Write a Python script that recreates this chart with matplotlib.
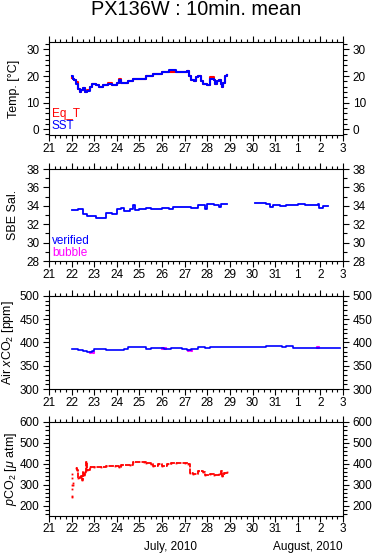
import matplotlib
matplotlib.use("Agg")
import matplotlib.pyplot as plt
from matplotlib.ticker import MultipleLocator, FixedLocator

plt.rcParams["font.family"] = ["Liberation Sans", "DejaVu Sans"]
plt.rcParams["mathtext.fontset"] = "custom"
plt.rcParams["mathtext.rm"] = "Liberation Sans"
plt.rcParams["mathtext.it"] = "Liberation Sans:italic"

# ---- data (day number: July d, Aug 1 = 32) ----
sst_day = [22.0, 22.05, 22.1, 22.2, 22.3, 22.35, 22.4, 22.5, 22.6, 22.7, 22.8, 22.9, 23.0, 23.1, 23.2,
           23.4, 23.6, 23.8, 24.0, 24.1, 24.2, 24.5, 24.7, 25.0, 25.3, 25.6, 26.0, 26.3, 26.6, 27.0,
           27.1, 27.2, 27.3, 27.4, 27.5, 27.6, 27.7, 27.8, 28.0, 28.1, 28.3, 28.35, 28.45, 28.5, 28.6,
           28.65, 28.7, 28.8, 28.85]
sst_val = [20.0, 19.0, 18.5, 17.0, 15.0, 13.8, 14.8, 15.5, 14.0, 14.2, 16.0, 17.0, 17.0, 16.5, 16.0,
           16.5, 17.0, 16.6, 17.5, 18.5, 17.5, 18.0, 19.0, 19.0, 20.0, 20.6, 21.5, 22.1, 21.6, 21.6,
           22.0, 20.0, 18.5, 18.0, 19.5, 20.0, 18.0, 17.0, 16.6, 19.0, 18.5, 17.0, 18.0, 18.5, 17.0,
           16.0, 17.5, 20.0, 20.5]
eqt_val = [19.4, 19.0, 18.5, 17.6, 15.0, 13.8, 14.8, 15.5, 14.0, 14.8, 16.0, 17.0, 17.0, 16.5, 16.0,
           16.5, 17.5, 16.6, 17.5, 19.0, 17.5, 18.0, 19.0, 19.0, 20.0, 20.6, 21.5, 21.6, 21.6, 21.6,
           22.0, 20.0, 18.5, 18.0, 19.5, 20.0, 18.0, 17.0, 16.6, 19.5, 18.5, 17.0, 18.0, 18.5, 17.0,
           16.0, 17.5, 20.0, 20.5]

sal_day1 = [22.0, 22.3, 22.5, 22.7, 23.0, 23.1, 23.5, 23.8, 24.0, 24.2, 24.3, 24.6, 24.7, 24.8, 25.0,
            25.3, 25.5, 26.0, 26.3, 26.5, 27.0, 27.3, 27.6, 27.9, 28.0, 28.3, 28.5, 28.6, 28.85]
sal_val1 = [33.5, 33.6, 33.1, 32.9, 32.9, 32.7, 33.2, 33.1, 33.6, 33.8, 33.4, 33.6, 34.1, 33.5, 33.6,
            33.8, 33.7, 33.8, 33.7, 33.9, 33.9, 33.8, 34.1, 33.6, 34.2, 34.1, 33.9, 34.15, 34.25]
sal_day2 = [30.1, 30.4, 30.6, 30.75, 30.9, 31.2, 31.5, 31.7, 32.0, 32.3, 32.6, 32.8, 32.9, 32.95,
            33.1, 33.33]
sal_val2 = [34.35, 34.3, 34.2, 33.9, 34.05, 34.0, 34.05, 34.05, 34.25, 34.1, 34.05, 34.1, 34.2, 33.75,
            34.0, 34.0]

air_day = [22.0, 22.3, 22.5, 22.7, 22.9, 23.0, 23.2, 23.4, 23.5, 24.0, 24.3, 24.5, 25.0, 25.3, 25.5,
           26.0, 26.1, 26.4, 26.8, 26.9, 27.1, 27.3, 27.6, 27.8, 27.9, 28.1, 29.0, 30.0, 30.6, 31.3,
           31.5, 31.8, 32.5, 33.0, 33.5, 33.88]
air_val = [385, 384, 382, 380, 381, 386, 387, 386, 383.5, 383.5, 386, 390, 390, 387, 389,
           389, 387, 388, 389, 386, 383, 386, 390, 391, 388, 390, 390, 390, 391.5, 390,
           391.5, 389, 389, 389, 389, 389]
bub_day = [22.8, 22.95, 26.0, 26.15, 27.15, 27.3, 32.85, 32.9]
bub_val = [380, 380, 389, 389, 383, 383, 391, 391]

pco2_day = [22.0, 22.0, 22.01, 22.02, 22.02, 22.03, 22.04, 22.05, 22.2, 22.25, 22.3, 22.35, 22.4,
            22.45, 22.5, 22.55, 22.6, 22.65, 22.7, 22.8, 23.0, 23.3, 23.5, 23.9, 24.1, 24.2, 24.6,
            24.7, 25.2, 25.3, 25.5, 25.6, 25.8, 26.0, 26.2, 26.4, 26.6, 27.0, 27.15, 27.25, 27.35,
            27.6, 27.8, 27.9, 28.1, 28.3, 28.5, 28.6, 28.65, 28.75, 28.85]
pco2_val = [350, 240, 330, 300, 280, 245, 310, 300, 380, 370, 330, 335, 340,
            320, 360, 345, 360, 410, 370, 385, 385, 383, 388, 390, 385, 393, 393,
            410, 410, 405, 400, 390, 400, 390, 398, 402, 405, 405, 400, 355, 350,
            365, 360, 345, 350, 345, 350, 365, 340, 355, 360]

BLUE, RED, MAG = "#0000ff", "#ff0000", "#ff00ff"
day_ticks = list(range(21, 35))
day_labels = [str(d) for d in range(21, 32)] + ["1", "2", "3"]

fig = plt.figure(figsize=(3.78, 5.58), dpi=100)
L, W = 49 / 378, 294 / 378
boxes = [(42, 135), (169, 261), (296, 389), (422, 516)]
axs = [fig.add_axes([L, 1 - b / 558, W, (b - t) / 558]) for t, b in boxes]

ylims = [(-2.2, 32.8), (28, 38), (300, 500), (150, 600)]
ymaj = [10, 2, 50, 100]
ymin = [2, 1, 10, 20]
ylabels = ["Temp. [°C]", "SBE Sal.", r"Air $x$CO$_2$ [ppm]", r"$p$CO$_2$ [$\mu$ atm]"]
ylabx = [13.5, 13, 8, 11]   # label centre, pixels from left edge

for ax, yl, mj, mn, lab, lx in zip(axs, ylims, ymaj, ymin, ylabels, ylabx):
    ax.set_xlim(21, 34)
    ax.set_ylim(*yl)
    ax.xaxis.set_major_locator(FixedLocator(day_ticks))
    ax.set_xticklabels(day_labels)
    ax.xaxis.set_minor_locator(MultipleLocator(0.25))
    ax.yaxis.set_major_locator(MultipleLocator(mj))
    ax.yaxis.set_minor_locator(MultipleLocator(mn))
    if yl[0] < 0:
        ax.set_yticks([0, 10, 20, 30])
    if yl == (150, 600):
        ax.set_yticks([200, 300, 400, 500, 600])
    ax.tick_params(axis="both", which="both", direction="out", top=True, right=True,
                   labelright=True, labelsize=8.5, width=0.8, color="black")
    ax.tick_params(axis="x", which="major", length=4.2, pad=1.2)
    ax.tick_params(axis="x", which="minor", length=2.2)
    ax.tick_params(axis="y", which="major", length=4.5, pad=2.5)
    ax.tick_params(axis="y", which="minor", length=2.8)
    for s in ax.spines.values():
        s.set_linewidth(0.8)
    ax.set_ylabel(lab, fontsize=9, va="center")
    ax.yaxis.set_label_coords((lx - 49) / 294, 0.5)

# temperature
a = axs[0]
a.plot(sst_day, eqt_val, color=RED, lw=1.5, drawstyle="steps-post")
a.plot(sst_day, sst_val, color=BLUE, lw=1.5, drawstyle="steps-post")
a.text(0.01, 0.19, "Eq_T", color=RED, fontsize=8.5, transform=a.transAxes)
a.text(0.01, 0.065, "SST", color=BLUE, fontsize=8.5, transform=a.transAxes)

# salinity
a = axs[1]
a.plot(sal_day1, sal_val1, color=BLUE, lw=1.3, drawstyle="steps-post")
a.plot(sal_day2, sal_val2, color=BLUE, lw=1.3, drawstyle="steps-post")
a.text(0.01, 0.185, "verified", color=BLUE, fontsize=8.5, transform=a.transAxes)
a.text(0.01, 0.055, "bubble", color=MAG, fontsize=8.5, transform=a.transAxes)

# air xCO2
a = axs[2]
a.plot(bub_day, bub_val, color=MAG, marker="s", ms=1.2, ls="none")
a.plot(air_day, air_val, color=BLUE, lw=1.2, drawstyle="steps-post")

# pCO2
a = axs[3]
a.plot(pco2_day[8:], pco2_val[8:], color=RED, lw=1.3, ls=(0, (3, 0.6)), drawstyle="steps-post")
a.plot(pco2_day, pco2_val, color=RED, marker="s", ms=1.3, mew=0, ls="none")

fig.text(0.518, 0.983, "PX136W : 10min. mean", ha="center", va="center", fontsize=14.3)
fig.text(0.45, 0.02, "July, 2010", ha="center", va="center", fontsize=8.5)
fig.text(0.907, 0.02, "August, 2010", ha="right", va="center", fontsize=8.5)

fig.savefig("out.png", dpi=100, facecolor="white")
